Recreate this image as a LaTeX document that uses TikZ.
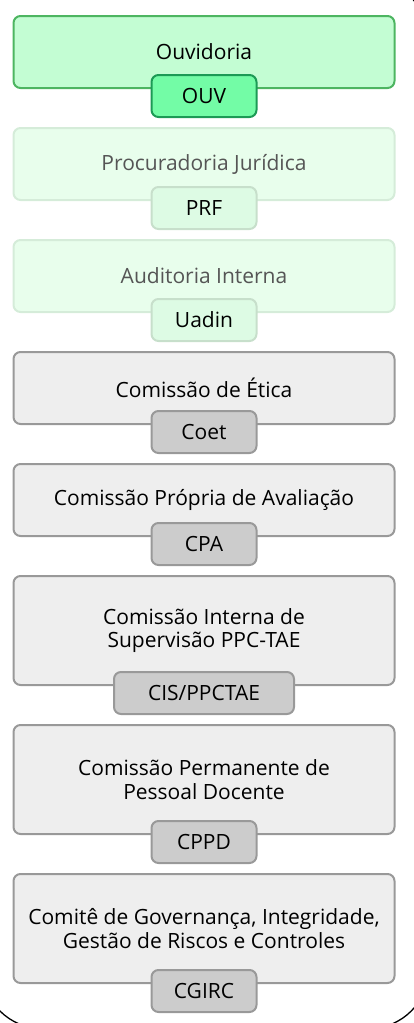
\documentclass[tikz,border=0pt]{standalone}
\usepackage{fontspec}
\setmainfont{Open Sans}
\usepackage{tikz}
\usetikzlibrary{positioning}
\definecolor{ouvfill}{HTML}{C3FDD3}
\definecolor{ouvline}{HTML}{4DB561}
\definecolor{ouvtagfill}{HTML}{73FCA6}
\definecolor{ouvtagline}{HTML}{1C9A55}
\definecolor{palefill}{HTML}{E8FEEC}
\definecolor{paleline}{HTML}{D5ECD9}
\definecolor{paletagfill}{HTML}{DDFBE4}
\definecolor{paletagline}{HTML}{C7DFCB}
\definecolor{paletext}{HTML}{555555}
\definecolor{grayfill}{HTML}{EEEEEE}
\definecolor{grayline}{HTML}{999999}
\definecolor{graytagfill}{HTML}{CCCCCC}

\begin{document}
\begin{tikzpicture}[x=1pt,y=1pt,node distance=40pt,
        orgbox/.style={draw,rounded corners=7pt,line width=2pt,minimum width=381pt,minimum height=72pt,
            inner sep=0pt,outer sep=0pt,align=center,font=\fontsize{21}{23.5}\selectfont},
        tallbox/.style={orgbox,minimum height=109pt},
        tagbox/.style={draw,rounded corners=7pt,line width=2pt,minimum width=105pt,minimum height=42pt,
            inner sep=0pt,outer sep=0pt,font=\fontsize{21}{23.5}\selectfont},
        ouvstyle/.style={fill=ouvfill,draw=ouvline},
        ouvtag/.style={fill=ouvtagfill,draw=ouvtagline},
        palestyle/.style={fill=palefill,draw=paleline,text=paletext},
        paletag/.style={fill=paletagfill,draw=paletagline},
        graystyle/.style={fill=grayfill,draw=grayline},
        graytag/.style={fill=graytagfill,draw=grayline}]
        \def\tagdrop{8}

        \useasboundingbox (0,0) rectangle (414,-1023);
        \draw[line width=1.3pt,rounded corners=60pt] (-17.6,20) rectangle (428.8,-1028.6);

        \node[orgbox,ouvstyle,anchor=north] (ouv) at (204,-16) {Ouvidoria};
        \node[orgbox,palestyle,below=of ouv] (prf) {Procuradoria Jurídica};
        \node[orgbox,palestyle,below=of prf] (uadin) {Auditoria Interna};
        \node[orgbox,graystyle,below=of uadin] (coet) {Comissão de Ética};
        \node[orgbox,graystyle,below=of coet] (cpa) {Comissão Própria de Avaliação};
        \node[tallbox,graystyle,below=of cpa] (cis) {Comissão Interna de\\Supervisão PPC-TAE};
        \node[tallbox,graystyle,below=of cis] (cppd) {Comissão Permanente de\\Pessoal Docente};
        \node[tallbox,graystyle,below=of cppd] (cgirc) {Comitê de Governança, Integridade,\\Gestão de Riscos e Controles};

        \node[tagbox,ouvtag] (ouvlbl) at ([yshift=-\tagdrop]ouv.south) {OUV};
        \node[tagbox,paletag] (prflbl) at ([yshift=-\tagdrop]prf.south) {PRF};
        \node[tagbox,paletag] (uadinlbl) at ([yshift=-\tagdrop]uadin.south) {Uadin};
        \node[tagbox,graytag] (coetlbl) at ([yshift=-\tagdrop]coet.south) {Coet};
        \node[tagbox,graytag] (cpalbl) at ([yshift=-\tagdrop]cpa.south) {CPA};
        \node[tagbox,graytag,minimum width=180pt] (cislbl) at ([yshift=-\tagdrop]cis.south) {CIS/PPCTAE};
        \node[tagbox,graytag] (cppdlbl) at ([yshift=-\tagdrop]cppd.south) {CPPD};
        \node[tagbox,graytag] (cgirclbl) at ([yshift=-\tagdrop]cgirc.south) {CGIRC};
    \end{tikzpicture}
\end{document}
